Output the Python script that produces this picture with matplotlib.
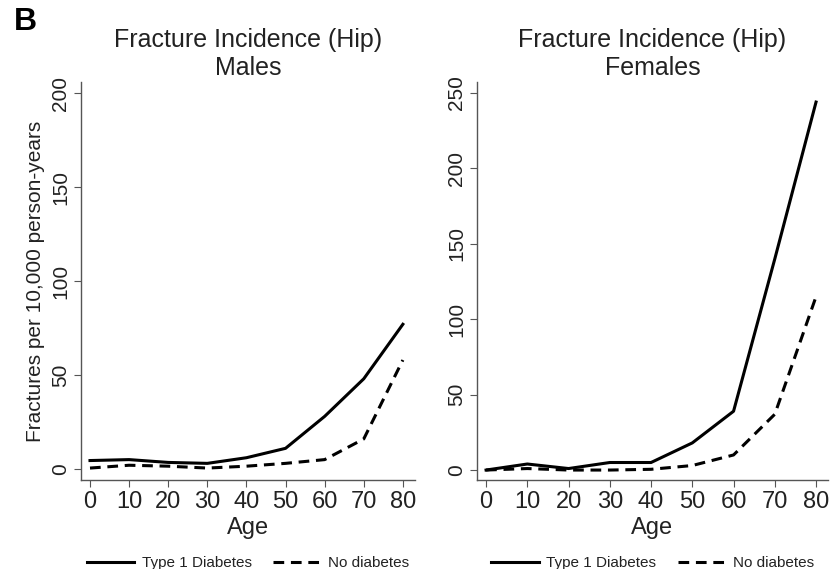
import numpy as np
import matplotlib
matplotlib.use('Agg')
import matplotlib.pyplot as plt

plt.rcParams.update({
    'font.family': ['Liberation Sans', 'DejaVu Sans'],
    'axes.linewidth': 1.0,
    'axes.edgecolor': '#555555',
    'xtick.color': '#555555',
    'ytick.color': '#555555',
    'xtick.labelcolor': '#222222',
    'ytick.labelcolor': '#222222',
})

# hip fracture incidence per 10,000 person-years, by age
age = [0, 10, 20, 30, 40, 50, 60, 70, 80]
males_t1d = [4.5, 5, 3.5, 3, 6, 11, 28, 48, 77]
males_nodm = [0.5, 2, 1.5, 0.5, 1.5, 3, 5, 16, 58]
females_t1d = [0, 4, 1, 5, 5, 18, 39, 140, 244]
females_nodm = [0, 1, 0, 0, 0.5, 3, 10, 37, 115]

xticks = [0, 10, 20, 30, 40, 50, 60, 70, 80]
males_yticks = [0, 50, 100, 150, 200]
females_yticks = [0, 50, 100, 150, 200, 250]

fig = plt.figure(figsize=(8.3, 5.69), dpi=100)
ax1 = fig.add_axes([81/830, 1-480/569, 334/830, 398/569])
ax2 = fig.add_axes([477/830, 1-480/569, 351/830, 398/569])

panels = [
    (ax1, males_t1d, males_nodm, 'Males', males_yticks, (-5.85, 205.9), (-2.3, 83.1)),
    (ax2, females_t1d, females_nodm, 'Females', females_yticks, (-6.6, 257.3), (-2.2, 82.9)),
]

for ax, t1d, nodm, sex, yticks, ylim, xlim in panels:
    ax.plot(age, t1d, color='black', lw=2.2, label='Type 1 Diabetes')
    ax.plot(age, nodm, color='black', lw=2.2, dashes=(3.5, 2.2), label='No diabetes')
    ax.set_xlim(*xlim)
    ax.set_ylim(*ylim)
    ax.set_xticks(xticks)
    ax.set_yticks(yticks)
    ax.spines['top'].set_visible(False)
    ax.spines['right'].set_visible(False)
    ax.tick_params(axis='x', labelsize=17, length=5, pad=3)
    ax.tick_params(axis='y', labelsize=15, length=5, pad=3)
    for lbl in ax.get_yticklabels():
        lbl.set_rotation(90)
        lbl.set_va('center')
    ax.set_title('Fracture Incidence (Hip)\n' + sex, fontsize=18, color='#222222',
                 linespacing=1.2, pad=5)
    ax.set_xlabel('Age', fontsize=17, color='#222222', labelpad=3)
    leg = ax.legend(loc='center', bbox_to_anchor=(0.5, -83/398), ncol=2, frameon=False,
                    fontsize=11, handlelength=3.1, columnspacing=1.4, handletextpad=0.5)
    for t in leg.get_texts():
        t.set_color('#222222')

ax1.set_ylabel('Fractures per 10,000 person-years', fontsize=15, color='#222222', labelpad=4)
fig.text(25/830, 1-22/569, 'B', fontsize=23, fontweight='bold', ha='center', va='center')

fig.savefig('out.png', dpi=100)
